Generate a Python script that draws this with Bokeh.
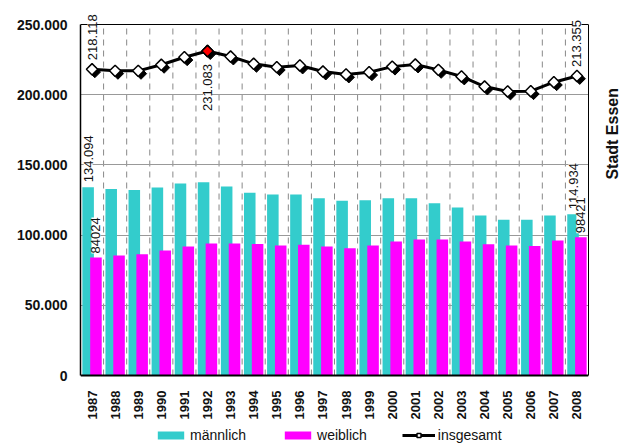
import math
from bokeh.plotting import figure
from bokeh.models import (ColumnDataSource, Range1d, FactorRange, FixedTicker, Legend,
                          LegendItem, LabelSet, LinearAxis, Span)
from bokeh.transform import dodge
from bokeh.core.properties import value
from bokeh.embed import file_html
from bokeh.resources import INLINE

years = [str(y) for y in range(1987, 2009)]
maennlich = [134094, 132900, 132200, 133900, 136700, 137700, 134600, 130100, 128900, 128900,
             126300, 124400, 124900, 126300, 126300, 122700, 119700, 114000, 110900, 110900,
             114000, 114934]
weiblich = [84024, 85500, 86400, 89000, 91900, 94000, 94000, 93700, 92600, 93100,
            91900, 90700, 92600, 95400, 96900, 96900, 95400, 93500, 92600, 92300,
            96200, 98421]
insgesamt = [218118, 217000, 217000, 221300, 226700, 231083, 227200, 222000, 219600, 220800,
             216500, 214400, 216000, 220000, 221500, 217700, 213000, 205800, 202300, 202500,
             208900, 213355]
y_ticks = [0, 50000, 100000, 150000, 200000, 250000]
y_tick_labels = ["0", "50.000", "100.000", "150.000", "200.000", "250.000"]

FONT = "Liberation Sans"
CYAN = "#33CCCC"
MAGENTA = "#FF00FF"
YMAX = y_ticks[-1]

# plot body is 351px for 0..250.000; the frame extends 14px above and 71px below it
BODY_PX, TOP_PX, BOTTOM_PX = 351, 14, 71


def de(v):
    return f"{v:,}".replace(",", ".")


src = ColumnDataSource(dict(year=years, m=maennlich, w=weiblich, t=insgesamt,
                            ts=[v - 2000 for v in insgesamt]))

p = figure(x_range=FactorRange(factors=years),
           y_range=Range1d(-YMAX * BOTTOM_PX / BODY_PX, YMAX * (BODY_PX + TOP_PX) / BODY_PX),
           frame_width=508, frame_height=BODY_PX + TOP_PX + BOTTOM_PX,
           output_backend="svg", toolbar_location=None,
           min_border_left=80, min_border_right=37, min_border_top=10, min_border_bottom=0)
p.background_fill_color = "white"
p.outline_line_color = None

# dashed category separators
bounds_x = list(range(1, len(years)))
p.segment(x0=bounds_x, y0=[0] * len(bounds_x), x1=bounds_x, y1=[YMAX] * len(bounds_x),
          line_color="#888888", line_dash="6 5", line_width=1, level="underlay")

r_m = p.vbar(x=dodge("year", -0.17, range=p.x_range), top="m", width=0.5, source=src,
             fill_color=CYAN, line_color=None)
r_w = p.vbar(x=dodge("year", 0.17, range=p.x_range), top="w", width=0.5, source=src,
             fill_color=MAGENTA, line_color=None)

p.scatter(x=dodge("year", 0.12, range=p.x_range), y="ts", source=src, marker="square",
          angle=math.pi / 4, size=8, fill_color="black", line_color="black")
r_l = p.line(x="year", y="t", source=src, line_width=3, line_color="black")
r_s = p.scatter(x="year", y="t", source=src, marker="square", angle=math.pi / 4, size=8,
                fill_color="white", line_color="black", line_width=1.5)
imax = insgesamt.index(max(insgesamt))
p.scatter(x=[years[imax]], y=[insgesamt[imax]], marker="square", angle=math.pi / 4, size=8,
          fill_color="#FF0000", line_color="black", line_width=1.5)

# axes
p.yaxis.ticker = FixedTicker(ticks=y_ticks)
p.yaxis.bounds = (0, YMAX)
p.yaxis.major_label_overrides = dict(zip(y_ticks, y_tick_labels))
p.yaxis.major_label_text_font = FONT
p.yaxis.major_label_text_font_style = "bold"
p.yaxis.major_label_text_font_size = "14px"
p.yaxis.major_label_text_color = "#111111"
p.yaxis.major_tick_line_color = None
p.yaxis.minor_tick_line_color = None
p.yaxis.axis_line_width = 1.5
p.yaxis.major_label_standoff = 7

p.xaxis.fixed_location = 0
p.xaxis.major_label_orientation = math.pi / 2
p.xaxis.major_label_text_font = FONT
p.xaxis.major_label_text_font_style = "bold"
p.xaxis.major_label_text_font_size = "13px"
p.xaxis.major_label_text_color = "#111111"
p.xaxis.major_tick_line_color = None
p.xaxis.axis_line_width = 2
p.xaxis.major_label_standoff = 9

# right border and side title
border_axis = LinearAxis(ticker=FixedTicker(ticks=[]), bounds=(0, YMAX), axis_line_color="black",
                         axis_line_width=1, major_tick_line_color=None,
                         minor_tick_line_color=None)
p.add_layout(border_axis, "right")
# the label starts at the frame's middle; non-breaking spaces lift it to the reference spot
title_axis = LinearAxis(ticker=FixedTicker(ticks=[]), axis_line_color=None,
                        major_tick_line_color=None, minor_tick_line_color=None,
                        axis_label="\u00a0" * 11 + "Stadt Essen",
                        axis_label_orientation=math.pi / 2, axis_label_standoff=24,
                        axis_label_text_font=FONT, axis_label_text_font_style="bold",
                        axis_label_text_font_size="16px", axis_label_text_color="#111111")
p.add_layout(title_axis, "right")

# grids
p.ygrid.ticker = FixedTicker(ticks=y_ticks)
p.ygrid.grid_line_color = "#999999"
p.ygrid.grid_line_width = 1
p.xgrid.grid_line_color = None

# top border
p.add_layout(Span(location=YMAX, dimension="width", line_color="black", line_width=1))

# value labels
lab_style = dict(angle=math.pi / 2, text_font=value(FONT), text_font_size="13px",
                 text_color="#111111", text_baseline="middle",
                 background_fill_color="white")
top_src = ColumnDataSource(dict(year=[years[0], years[-1]], t=[insgesamt[0], insgesamt[-1]],
                                txt=[de(insgesamt[0]), de(insgesamt[-1])]))
p.add_layout(LabelSet(x="year", y="t", text="txt", source=top_src, y_offset=9,
                      text_align="left", **lab_style))
max_src = ColumnDataSource(dict(year=[years[imax]], t=[insgesamt[imax]], txt=[de(insgesamt[imax])]))
p.add_layout(LabelSet(x="year", y="t", text="txt", source=max_src, y_offset=-13,
                      text_align="right", **lab_style))
m_src = ColumnDataSource(dict(year=[years[0], years[-1]], v=[maennlich[0], maennlich[-1]],
                              txt=[de(maennlich[0]), de(maennlich[-1])]))
p.add_layout(LabelSet(x=dodge("year", -0.17, range=p.x_range), y="v", text="txt", source=m_src,
                      y_offset=5, text_align="left", **lab_style))
w_src = ColumnDataSource(dict(year=[years[0], years[-1]], v=[weiblich[0], weiblich[-1]],
                              txt=[str(weiblich[0]), str(weiblich[-1])]))
p.add_layout(LabelSet(x=dodge("year", 0.17, range=p.x_range), y="v", text="txt", source=w_src,
                      y_offset=4, text_align="left", **lab_style))

legend = Legend(items=[LegendItem(label="männlich", renderers=[r_m]),
                       LegendItem(label="weiblich", renderers=[r_w]),
                       LegendItem(label="insgesamt", renderers=[r_l, r_s])],
                orientation="horizontal", location=(74, 3), border_line_color=None,
                background_fill_alpha=0, glyph_width=33, glyph_height=10,
                label_text_font=FONT, label_text_font_size="14px", label_text_color="#111111",
                spacing=35, label_standoff=3, padding=0, margin=0,
                label_height=12)
p.add_layout(legend)

open("out.html", "w").write(file_html(p, INLINE))
